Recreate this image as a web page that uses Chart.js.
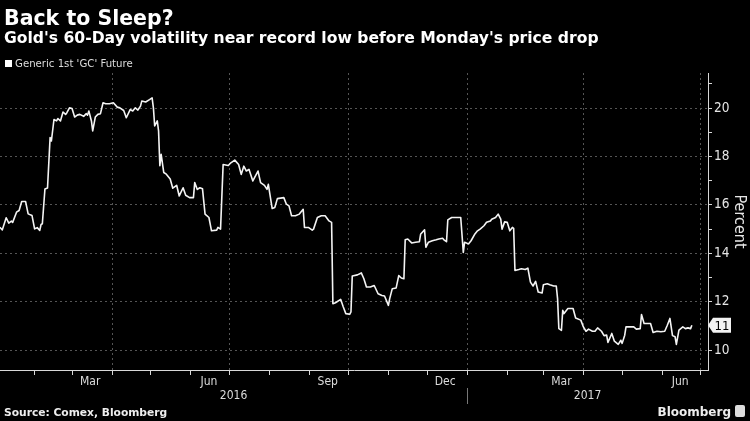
<!DOCTYPE html>
<html>
<head>
<meta charset="utf-8">
<script src="https://cdn.jsdelivr.net/npm/chart.js@4.4.1/dist/chart.umd.min.js"></script>
<style>
  html, body { margin: 0; padding: 0; background: #000; }
  #wrap { position: relative; width: 750px; height: 421px; background: #000; overflow: hidden; }
  #chart { position: absolute; left: 0; top: 0; }
  .txt { position: absolute; color: #fff; white-space: nowrap; line-height: 1; }
  #title    { left: 4px; top: 6px;  font: bold 20.5px 'DejaVu Sans', sans-serif; }
  #subtitle { left: 4px; top: 29px; font: bold 15.6px 'DejaVu Sans', sans-serif; }
  #legend   { left: 5px; top: 57px; font: 11.3px 'DejaVu Sans Condensed', 'DejaVu Sans', sans-serif;
              font-stretch: condensed; color: #ddd; display: flex; align-items: center; height: 12px; }
  #legend i { display: inline-block; width: 7px; height: 7px; background: #fff; margin-right: 3px; }
  #source   { left: 4px; top: 406px; font: bold 10.7px 'DejaVu Sans', sans-serif; color: #eee; }
  #brand    { right: 19px; top: 405px; font: bold 12px 'DejaVu Sans', sans-serif; color: #eee; }
  #logo     { position: absolute; left: 735px; top: 405px; width: 10px; height: 12px; background: #ddd; border-radius: 2px; }
</style>
</head>
<body>
<div id="wrap">
  <canvas id="chart" width="750" height="421"></canvas>
  <div class="txt" id="title">Back to Sleep?</div>
  <div class="txt" id="subtitle">Gold's 60-Day volatility near record low before Monday's price drop</div>
  <div class="txt" id="legend"><i></i>Generic 1st 'GC' Future</div>
  <div class="txt" id="source">Source: Comex, Bloomberg</div>
  <div class="txt" id="brand">Bloomberg</div>
  <div id="logo"></div>
</div>
<script>
// x values are days counted from 1 Jan 2016 (day 366 = 1 Jan 2017)
const daysSince2016 = [
  4, 6, 9, 11, 13, 14, 17, 19, 21, 24,
  26, 29, 31, 33, 35, 36, 37, 39, 41, 43,
  44, 46, 48, 49, 51, 53, 55, 56, 58, 60,
  62, 64, 66, 69, 71, 72, 73, 75, 76, 78,
  80, 82, 84, 86, 89, 92, 95, 97, 100, 102,
  105, 107, 109, 111, 113, 114, 117, 120, 122, 123,
  124, 126, 127, 128, 129, 131, 133, 136, 138, 141,
  143, 146, 148, 151, 154, 155, 157, 159, 161, 163,
  166, 168, 172, 173, 175, 177, 181, 183, 186, 189,
  191, 193, 195, 197, 200, 204, 206, 209, 211, 212,
  215, 217, 219, 224, 226, 228, 230, 233, 236, 239,
  240, 243, 246, 247, 250, 253, 256, 259, 261, 262,
  264, 268, 270, 272, 275, 276, 277, 281, 284, 286,
  288, 291, 294, 297, 300, 302, 305, 306, 308, 311,
  313, 315, 317, 318, 320, 323, 326, 329, 330, 333,
  334, 336, 339, 342, 344, 347, 348, 350, 351, 354,
  358, 361, 363, 364, 367, 369, 372, 374, 376, 379,
  381, 384, 385, 388, 390, 392, 393, 395, 397, 399,
  401, 402, 403, 406, 408, 411, 413, 415, 417, 419,
  421, 424, 425, 428, 430, 433, 435, 436, 437, 439,
  440, 441, 444, 448, 450, 454, 456, 458, 460, 463,
  465, 467, 470, 472, 474, 475, 478, 480, 483, 485,
  486, 488, 489, 492, 495, 497, 500, 501, 503, 505,
  508, 510, 513, 516, 519, 521, 523, 525, 527, 528,
  530, 533, 535, 537, 539, 540
];

// 60-day volatility, percent
const volatility = [
  15.08, 14.97, 15.47, 15.25, 15.33, 15.28, 15.70, 15.77, 16.14, 16.14,
  15.63, 15.56, 15.01, 15.06, 14.95, 15.19, 15.22, 16.66, 16.70, 18.78,
  18.64, 19.53, 19.47, 19.57, 19.47, 19.84, 19.74, 19.81, 20.01, 19.98,
  19.63, 19.71, 19.74, 19.66, 19.77, 19.71, 19.88, 19.47, 19.06, 19.63,
  19.74, 19.77, 20.22, 20.18, 20.18, 20.22, 20.04, 20.01, 19.90, 19.60,
  19.94, 19.88, 20.01, 19.92, 20.08, 20.29, 20.25, 20.35, 20.42, 20.01,
  19.26, 19.47, 19.06, 17.62, 18.09, 17.34, 17.27, 17.07, 16.69, 16.81,
  16.37, 16.71, 16.40, 16.30, 16.30, 16.92, 16.64, 16.71, 16.67, 15.62,
  15.48, 14.93, 14.96, 15.07, 15.00, 17.67, 17.63, 17.74, 17.85, 17.67,
  17.26, 17.60, 17.40, 17.47, 16.99, 17.40, 16.92, 16.81, 16.64, 16.85,
  15.85, 15.89, 16.26, 16.30, 16.03, 15.96, 15.55, 15.55, 15.62, 15.82,
  15.07, 15.07, 14.96, 15.00, 15.48, 15.55, 15.55, 15.34, 15.28, 11.92,
  11.96, 12.10, 11.79, 11.51, 11.48, 11.58, 13.06, 13.11, 13.19, 12.95,
  12.61, 12.61, 12.67, 12.33, 12.26, 12.24, 11.85, 12.13, 12.54, 12.57,
  13.08, 12.98, 12.95, 14.56, 14.59, 14.43, 14.46, 14.48, 14.80, 14.97,
  14.25, 14.46, 14.52, 14.56, 14.59, 14.62, 14.56, 14.48, 15.38, 15.48,
  15.48, 15.48, 14.04, 14.46, 14.39, 14.52, 14.80, 14.93, 15.00, 15.14,
  15.28, 15.34, 15.41, 15.48, 15.62, 15.41, 15.00, 15.30, 15.28, 14.93,
  15.07, 15.03, 13.29, 13.33, 13.36, 13.33, 13.39, 12.81, 12.65, 12.84,
  12.40, 12.36, 12.70, 12.74, 12.70, 12.65, 12.65, 12.13, 10.89, 10.82,
  11.65, 11.51, 11.72, 11.72, 11.33, 11.24, 10.96, 10.78, 10.87, 10.78,
  10.78, 10.92, 10.78, 10.60, 10.62, 10.32, 10.69, 10.37, 10.24, 10.41,
  10.28, 10.62, 10.96, 10.96, 10.96, 10.87, 10.89, 11.47, 11.10, 11.10,
  11.10, 10.73, 10.78, 10.76, 10.78, 11.03, 11.31, 10.60, 10.55, 10.24,
  10.83, 10.96, 10.89, 10.92, 10.89, 11.03
];

// axis ticks
const monthStarts   = [31, 60, 91, 121, 152, 182, 213, 244, 274, 305, 335, 366, 397, 425, 456, 486, 517, 547];
const quarterStarts = [91, 182, 274, 366, 456, 547];
const monthLabelAt  = [74, 166, 258, 349, 439, 531];
const monthLabels   = ["Mar", "Jun", "Sep", "Dec", "Mar", "Jun"];
const yearLabels    = ["2016", "2017"];
const yearBreak     = 366;
const yTicks        = [10, 11, 12, 13, 14, 15, 16, 17, 18, 19, 20, 21];

const X_MIN = 4.2, X_MAX = 552.5;
const Y_MIN = 9.18, Y_MAX = 21.45;
const yearLabelAt = [(X_MIN + yearBreak) / 2, (yearBreak + X_MAX) / 2];

const COND = "'DejaVu Sans Condensed', 'DejaVu Sans', sans-serif";
const GRID = "#555";
const AXIS = "#d8d8d8";

const points = daysSince2016.map((d, i) => ({ x: d, y: volatility[i] }));

// small tag on the right axis with the latest reading + year divider
const lastTag = {
  id: "lastTag",
  afterDraw(chart) {
    const { ctx, chartArea, scales } = chart;
    const v = volatility[volatility.length - 1];
    const y = scales.y.getPixelForValue(v);
    const x = chartArea.right;
    ctx.save();
    ctx.fillStyle = "#f2f2f2";
    ctx.beginPath();
    ctx.moveTo(x, y);
    ctx.lineTo(x + 5, y - 7.5);
    ctx.lineTo(x + 23, y - 7.5);
    ctx.lineTo(x + 23, y + 7.5);
    ctx.lineTo(x + 5, y + 7.5);
    ctx.closePath();
    ctx.fill();
    ctx.fillStyle = "#000";
    ctx.font = "13px " + COND;
    ctx.textAlign = "center";
    ctx.textBaseline = "middle";
    ctx.fillText(String(Math.round(v)), x + 14, y + 1);

    const xb = Math.round(scales.x.getPixelForValue(yearBreak)) + 0.5;
    ctx.strokeStyle = "#777";
    ctx.lineWidth = 1;
    ctx.beginPath();
    ctx.moveTo(xb, scales.xy.top - 1);
    ctx.lineTo(xb, scales.xy.bottom);
    ctx.stroke();
    ctx.restore();
  }
};

new Chart(document.getElementById("chart"), {
  type: "line",
  data: {
    datasets: [{
      label: "Generic 1st 'GC' Future",
      data: points,
      borderColor: "#f4f4f4",
      borderWidth: 1.6,
      borderJoinStyle: "round",
      pointRadius: 0,
      tension: 0,
      fill: false,
    }],
  },
  options: {
    responsive: false,
    animation: false,
    layout: { padding: { top: 73, left: 0, right: 0, bottom: 17 } },
    plugins: { legend: { display: false }, tooltip: { enabled: false } },
    scales: {
      x: {
        type: "linear", position: "bottom", min: X_MIN, max: X_MAX, weight: 0,
        afterBuildTicks: s => { s.ticks = monthStarts.map(v => ({ value: v })); },
        afterFit: s => { s.height = 5; },
        ticks: { display: false },
        grid: {
          color: c => quarterStarts.includes(c.tick && c.tick.value) ? GRID : "rgba(0,0,0,0)",
          tickColor: AXIS, tickLength: 5, tickBorderDash: [],
        },
        border: { color: AXIS, dash: [2, 3] },
      },
      xm: {
        type: "linear", position: "bottom", min: X_MIN, max: X_MAX, weight: 1,
        afterBuildTicks: s => { s.ticks = monthLabelAt.map(v => ({ value: v })); },
        afterFit: s => { s.height = 14; },
        ticks: {
          autoSkip: false, maxRotation: 0, padding: 0, color: "#dcdcdc",
          font: { family: COND, size: 12 },
          callback: (v, i) => monthLabels[i],
        },
        grid: { display: false, drawTicks: false },
        border: { display: false },
      },
      xy: {
        type: "linear", position: "bottom", min: X_MIN, max: X_MAX, weight: 2,
        afterBuildTicks: s => { s.ticks = yearLabelAt.map(v => ({ value: v })); },
        afterFit: s => { s.height = 15; },
        ticks: {
          autoSkip: false, maxRotation: 0, padding: 0, color: "#dcdcdc",
          font: { family: COND, size: 12 },
          callback: (v, i) => yearLabels[i],
        },
        grid: { display: false, drawTicks: false },
        border: { display: false },
      },
      y: {
        type: "linear", position: "right", min: Y_MIN, max: Y_MAX,
        afterBuildTicks: s => { s.ticks = yTicks.map(v => ({ value: v })); },
        afterFit: s => { s.width = 42; },
        ticks: {
          padding: 2, color: "#e6e6e6",
          font: { family: COND, size: 13.5 },
          callback: v => (v % 2 === 0 ? String(v) : ""),
        },
        grid: {
          color: c => (c.tick && c.tick.value % 2 === 0) ? GRID : "rgba(0,0,0,0)",
          tickColor: AXIS, tickLength: 4, tickBorderDash: [],
        },
        border: { color: AXIS, dash: [2, 3] },
        title: {
          display: true, text: "Percent", color: "#e6e6e6",
          font: { family: COND, size: 16 }, padding: 1,
        },
      },
    },
  },
  plugins: [lastTag],
});
</script>
</body>
</html>
